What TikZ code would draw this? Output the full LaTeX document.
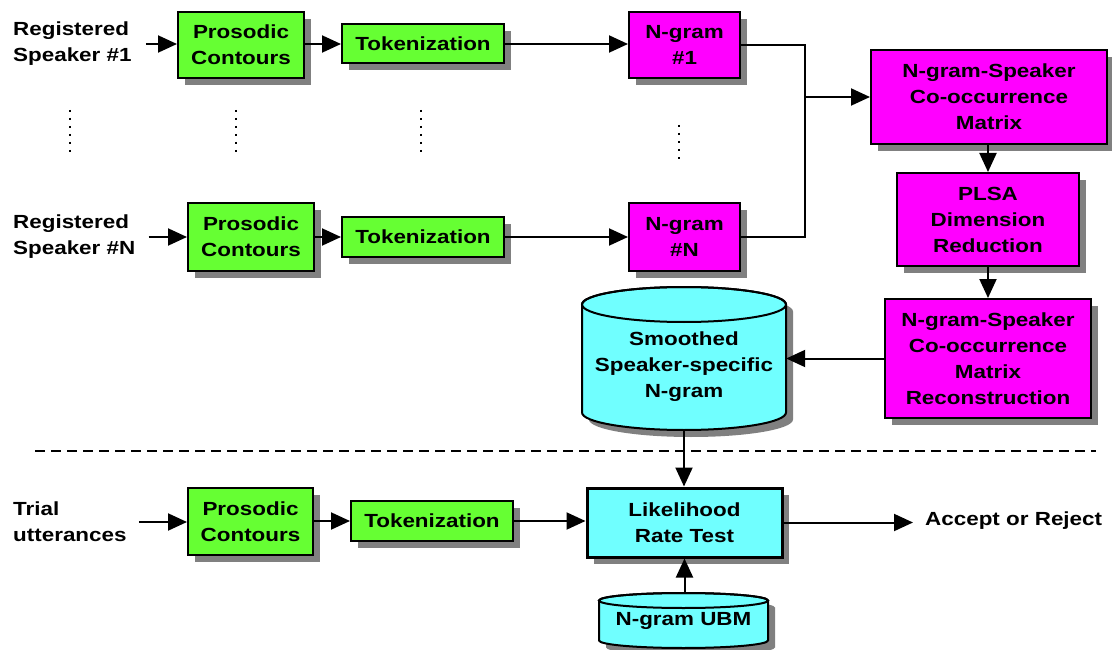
\documentclass[tikz,border=0pt]{standalone}
\usepackage{fontspec}
\newfontfamily\diagfont{Liberation Sans}[FakeStretch=1.18]
\usetikzlibrary{arrows.meta,shadows}
\definecolor{boxgreen}{HTML}{66FF33}
\definecolor{boxmag}{HTML}{FF00FF}
\definecolor{boxcyan}{HTML}{70FFFF}
\definecolor{shadowgray}{HTML}{808080}

\tikzset{
  every node/.style={font=\diagfont\bfseries\fontsize{19}{26}\selectfont},
  blk/.style={draw=black, line width=2pt, align=center, inner sep=0pt,
    drop shadow={shadow xshift=7pt,shadow yshift=-7pt,fill=shadowgray,opacity=1}},
  greenbox/.style={blk, fill=boxgreen},
  magbox/.style={blk, fill=boxmag},
  cyanbox/.style={blk, fill=boxcyan, line width=3pt},
  lbl/.style={align=left, inner sep=0pt},
  conn/.style={line width=2pt, -{Triangle[length=19pt,width=17pt]}},
  wire/.style={line width=2pt},
  vdots/.style={line width=2.5pt, dash pattern=on 2.5pt off 5.5pt},
  cylline/.style={draw=black, line width=2pt},
}

\begin{document}
\begin{tikzpicture}[x=1pt,y=1pt]
\useasboundingbox (0,0) rectangle (1112,-650);

% ---- enrolment: speaker #1 ----
\node[lbl, anchor=west] (l1) at (13,-44) {Registered\\Speaker \#1};
\node[greenbox, minimum width=126pt, minimum height=66pt] (p1) at (241,-45) {Prosodic\\Contours};
\node[greenbox, minimum width=162pt, minimum height=39pt] (t1) at (423,-44) {Tokenization};
\node[magbox, minimum width=111pt, minimum height=66pt] (n1) at (684.5,-45) {N-gram\\\#1};

% ---- enrolment: speaker #N ----
\node[lbl, anchor=west] (lN) at (13,-237) {Registered\\Speaker \#N};
\node[greenbox, minimum width=126pt, minimum height=68pt] (pN) at (251,-237) {Prosodic\\Contours};
\node[greenbox, minimum width=162pt, minimum height=40pt] (tN) at (423,-237) {Tokenization};
\node[magbox, minimum width=111pt, minimum height=67pt] (nN) at (684.5,-237) {N-gram\\\#N};

% ---- vertical ellipsis between the two rows ----
\draw[vdots] (70,-110) -- (70,-152);
\draw[vdots] (236,-110) -- (236,-152);
\draw[vdots] (421,-110) -- (421,-152);
\draw[vdots] (679,-125) -- (679,-164);

% ---- matrix processing column ----
\node[magbox, minimum width=236pt, minimum height=94pt] (mat) at (989,-97) {N-gram-Speaker\\Co-occurrence\\Matrix};
\node[magbox, minimum width=182pt, minimum height=93pt] (plsa) at (988,-219.5) {PLSA\\Dimension\\Reduction};
\node[magbox, minimum width=206pt, minimum height=119pt] (rec) at (988,-358.5) {N-gram-Speaker\\Co-occurrence\\Matrix\\Reconstruction};

% ---- smoothed model store (cylinder) ----
\fill[shadowgray] (589,-311.5) -- (589,-419.5)
  arc[start angle=180,end angle=360,x radius=102,y radius=17.5]
  -- (793,-311.5) arc[start angle=0,end angle=180,x radius=102,y radius=17.5] -- cycle;
\filldraw[fill=boxcyan, cylline] (582,-304.5) -- (582,-412.5)
  arc[start angle=180,end angle=360,x radius=102,y radius=17.5]
  -- (786,-304.5) arc[start angle=0,end angle=180,x radius=102,y radius=17.5] -- cycle;
\draw[cylline] (684,-304.5) ellipse[x radius=102, y radius=17.5];
\node[minimum width=204pt, minimum height=143pt, inner sep=0pt] (sm) at (684,-358.5) {};
\node[align=center, inner sep=0pt] (smtext) at (684,-367) {Smoothed\\Speaker-specific\\N-gram};

% ---- separator ----
\draw[line width=2.5pt, dash pattern=on 10pt off 6pt] (35,-451) -- (1096,-451);

% ---- verification path ----
\node[lbl, anchor=west] (l3) at (13,-522) {Trial\\utterances};
\node[greenbox, minimum width=125pt, minimum height=67pt] (p3) at (250.5,-521.5) {Prosodic\\Contours};
\node[greenbox, minimum width=162pt, minimum height=40pt] (t3) at (432,-521) {Tokenization};
\node[cyanbox, minimum width=195pt, minimum height=69pt] (lrt) at (684.5,-522.5) {Likelihood\\Rate Test};
\node[inner sep=0pt, anchor=west] (acc) at (925,-521) {Accept or Reject};

% ---- background model store (cylinder) ----
\fill[shadowgray] (606,-607.5) -- (606,-647.5)
  arc[start angle=180,end angle=360,x radius=84.5,y radius=7.5]
  -- (775,-607.5) arc[start angle=0,end angle=180,x radius=84.5,y radius=7.5] -- cycle;
\filldraw[fill=boxcyan, cylline] (599,-600.5) -- (599,-640.5)
  arc[start angle=180,end angle=360,x radius=84.5,y radius=7.5]
  -- (768,-600.5) arc[start angle=0,end angle=180,x radius=84.5,y radius=7.5] -- cycle;
\draw[cylline] (683.5,-600.5) ellipse[x radius=84.5, y radius=7.5];
\node[minimum width=169pt, minimum height=55pt, inner sep=0pt] (ubm) at (683.5,-620.5) {N-gram UBM};

% ---- connectors ----
\draw[conn, shorten <=14pt] (l1.east) -- (l1.east -| p1.west);
\draw[conn] (p1.east |- t1.west) -- (t1.west);
\draw[conn] (t1.east) -- (t1.east -| n1.west);

\draw[conn, shorten <=13pt] (lN.east) -- (lN.east -| pN.west);
\draw[conn] (pN.east) -- (tN.west);
\draw[conn] (tN.east) -- (tN.east -| nN.west);

\coordinate (j) at (805,-97);
\draw[wire] (n1.east) -| (j);
\draw[wire] (nN.east) -| (j);
\draw[conn] (j) -- (mat.west);
\draw[conn] (mat.south -| plsa.north) -- (plsa.north);
\draw[conn] (plsa.south) -- (rec.north);
\draw[conn] (rec.west) -- (sm.east);
\draw[conn] (sm.south) -- (sm.south |- lrt.north);

\draw[conn, shorten <=12pt] (l3.east) -- (l3.east -| p3.west);
\draw[conn] (p3.east |- t3.west) -- (t3.west);
\draw[conn] (t3.east) -- (t3.east -| lrt.west);
\draw[conn, shorten >=12pt] (lrt.east) -- (lrt.east -| acc.west);
\draw[conn] (ubm.north -| lrt.south) -- (lrt.south);
\end{tikzpicture}
\end{document}
